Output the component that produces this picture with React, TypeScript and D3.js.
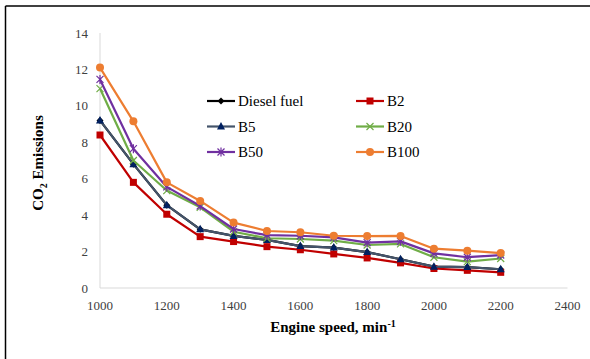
import React from "react";
import * as d3 from "d3";

const speeds = [1000, 1100, 1200, 1300, 1400, 1500, 1600, 1700, 1800, 1900, 2000, 2100, 2200];
const diesel = [9.2, 6.8, 4.55, 3.22, 2.86, 2.64, 2.3, 2.22, 1.97, 1.58, 1.17, 1.15, 1.03];
const b2 = [8.4, 5.8, 4.05, 2.82, 2.55, 2.27, 2.1, 1.87, 1.65, 1.38, 1.07, 0.97, 0.86];
const b5 = [9.2, 6.8, 4.55, 3.22, 2.86, 2.64, 2.3, 2.22, 1.97, 1.58, 1.17, 1.15, 1.03];
const b20 = [10.95, 7.0, 5.35, 4.43, 3.09, 2.73, 2.69, 2.6, 2.36, 2.42, 1.69, 1.45, 1.62];
const b50 = [11.45, 7.65, 5.55, 4.5, 3.24, 2.9, 2.87, 2.78, 2.49, 2.56, 1.9, 1.69, 1.81];
const b100 = [12.1, 9.15, 5.8, 4.78, 3.59, 3.13, 3.06, 2.87, 2.85, 2.86, 2.16, 2.05, 1.92];

const xTicks = [1000, 1200, 1400, 1600, 1800, 2000, 2200, 2400];
const yTicks = [0, 2, 4, 6, 8, 10, 12, 14];

type Series = { name: string; values: number[]; line: string; marker: string; shape: string };
const series: Series[] = [
  { name: "Diesel fuel", values: diesel, line: "#000000", marker: "#000000", shape: "diamond" },
  { name: "B2", values: b2, line: "#C00000", marker: "#C00000", shape: "square" },
  { name: "B5", values: b5, line: "#44546A", marker: "#002060", shape: "triangle" },
  { name: "B20", values: b20, line: "#70AD47", marker: "#70AD47", shape: "x" },
  { name: "B50", values: b50, line: "#7030A0", marker: "#7030A0", shape: "star" },
  { name: "B100", values: b100, line: "#ED7D31", marker: "#ED7D31", shape: "circle" },
];

const font = "Liberation Serif, Times New Roman, DejaVu Serif, serif";

function Marker({ shape, color, x, y }: { shape: string; color: string; x: number; y: number }) {
  switch (shape) {
    case "diamond":
      return <path d={`M${x},${y - 3.5}L${x + 3.5},${y}L${x},${y + 3.5}L${x - 3.5},${y}Z`} fill={color} />;
    case "square":
      return <rect x={x - 3.5} y={y - 3.5} width={7} height={7} fill={color} />;
    case "triangle":
      return <path d={`M${x},${y - 4.5}L${x + 4},${y + 3}L${x - 4},${y + 3}Z`} fill={color} />;
    case "x":
      return (
        <path d={`M${x - 3.5},${y - 3.5}L${x + 3.5},${y + 3.5}M${x - 3.5},${y + 3.5}L${x + 3.5},${y - 3.5}`} stroke={color} strokeWidth={1.2} />
      );
    case "star":
      return (
        <path
          d={`M${x - 3.5},${y - 3.5}L${x + 3.5},${y + 3.5}M${x - 3.5},${y + 3.5}L${x + 3.5},${y - 3.5}M${x},${y - 4.5}L${x},${y + 4.5}`}
          stroke={color}
          strokeWidth={1.2}
        />
      );
    case "circle":
      return <circle cx={x} cy={y} r={4} fill={color} />;
    default:
      return null;
  }
}

export default function App() {
  const W = 590, H = 359;
  const x = d3.scaleLinear().domain([1000, 2400]).range([100, 567.5]);
  const y = d3.scaleLinear().domain([0, 14]).range([288, 33]);
  const line = d3
    .line<number>()
    .x((_, i) => x(speeds[i]))
    .y((d) => y(d));

  const legendRows = [
    [0, 1],
    [2, 3],
    [4, 5],
  ];
  const colX = [207, 356];
  const rowY = [101, 126.5, 152];
  const tf = { fontFamily: font };

  return (
    <svg width={W} height={H} style={{ position: "absolute", left: 0, top: 0, background: "#fff", fontFamily: font }}>
      <rect x={0} y={0} width={W} height={H} fill="#fff" />
      <line x1={5.5} y1={6} x2={W} y2={6} stroke="#000" strokeWidth={1.5} />
      <line x1={5.5} y1={6} x2={5.5} y2={H} stroke="#000" strokeWidth={1.5} />

      <line x1={x(1000)} y1={y(14)} x2={x(1000)} y2={y(0)} stroke="#D9D9D9" strokeWidth={1} />
      <line x1={x(1000)} y1={y(0)} x2={x(2400)} y2={y(0)} stroke="#D9D9D9" strokeWidth={1} />

      {yTicks.map((t) => (
        <text key={t} x={88} y={y(t) + 4.5} textAnchor="end" style={tf} fontSize={13} fill="#404040">
          {t}
        </text>
      ))}
      {xTicks.map((t) => (
        <text key={t} x={x(t)} y={310} textAnchor="middle" style={tf} fontSize={13} fill="#404040">
          {t}
        </text>
      ))}

      <text x={333} y={332} textAnchor="middle" style={tf} fontSize={15} fontWeight="bold" fill="#000">
        Engine speed, min
        <tspan dy={-5} fontSize={10}>-1</tspan>
      </text>
      <text
        transform={`translate(43,163) rotate(-90)`}
        textAnchor="middle"
        style={tf}
        fontSize={15}
        fontWeight="bold"
        fill="#000"
      >
        CO
        <tspan dy={4} fontSize={10}>2</tspan>
        <tspan dy={-4}> Emissions</tspan>
      </text>

      {series.map((s) => (
        <g key={s.name}>
          <path d={line(s.values) || ""} fill="none" stroke={s.line} strokeWidth={2.2} strokeLinejoin="round" />
          {s.values.map((v, i) => (
            <Marker key={i} shape={s.shape} color={s.marker} x={x(speeds[i])} y={y(v)} />
          ))}
        </g>
      ))}

      {legendRows.map((row, r) =>
        row.map((si, c) => {
          const s = series[si];
          const lx = colX[c];
          const ly = rowY[r];
          return (
            <g key={s.name}>
              <line x1={lx} y1={ly} x2={lx + 28} y2={ly} stroke={s.line} strokeWidth={2.2} />
              <Marker shape={s.shape} color={s.marker} x={lx + 14} y={ly} />
              <text x={lx + 31} y={ly + 5} style={tf} fontSize={15} fill="#000">
                {s.name}
              </text>
            </g>
          );
        })
      )}
    </svg>
  );
}
